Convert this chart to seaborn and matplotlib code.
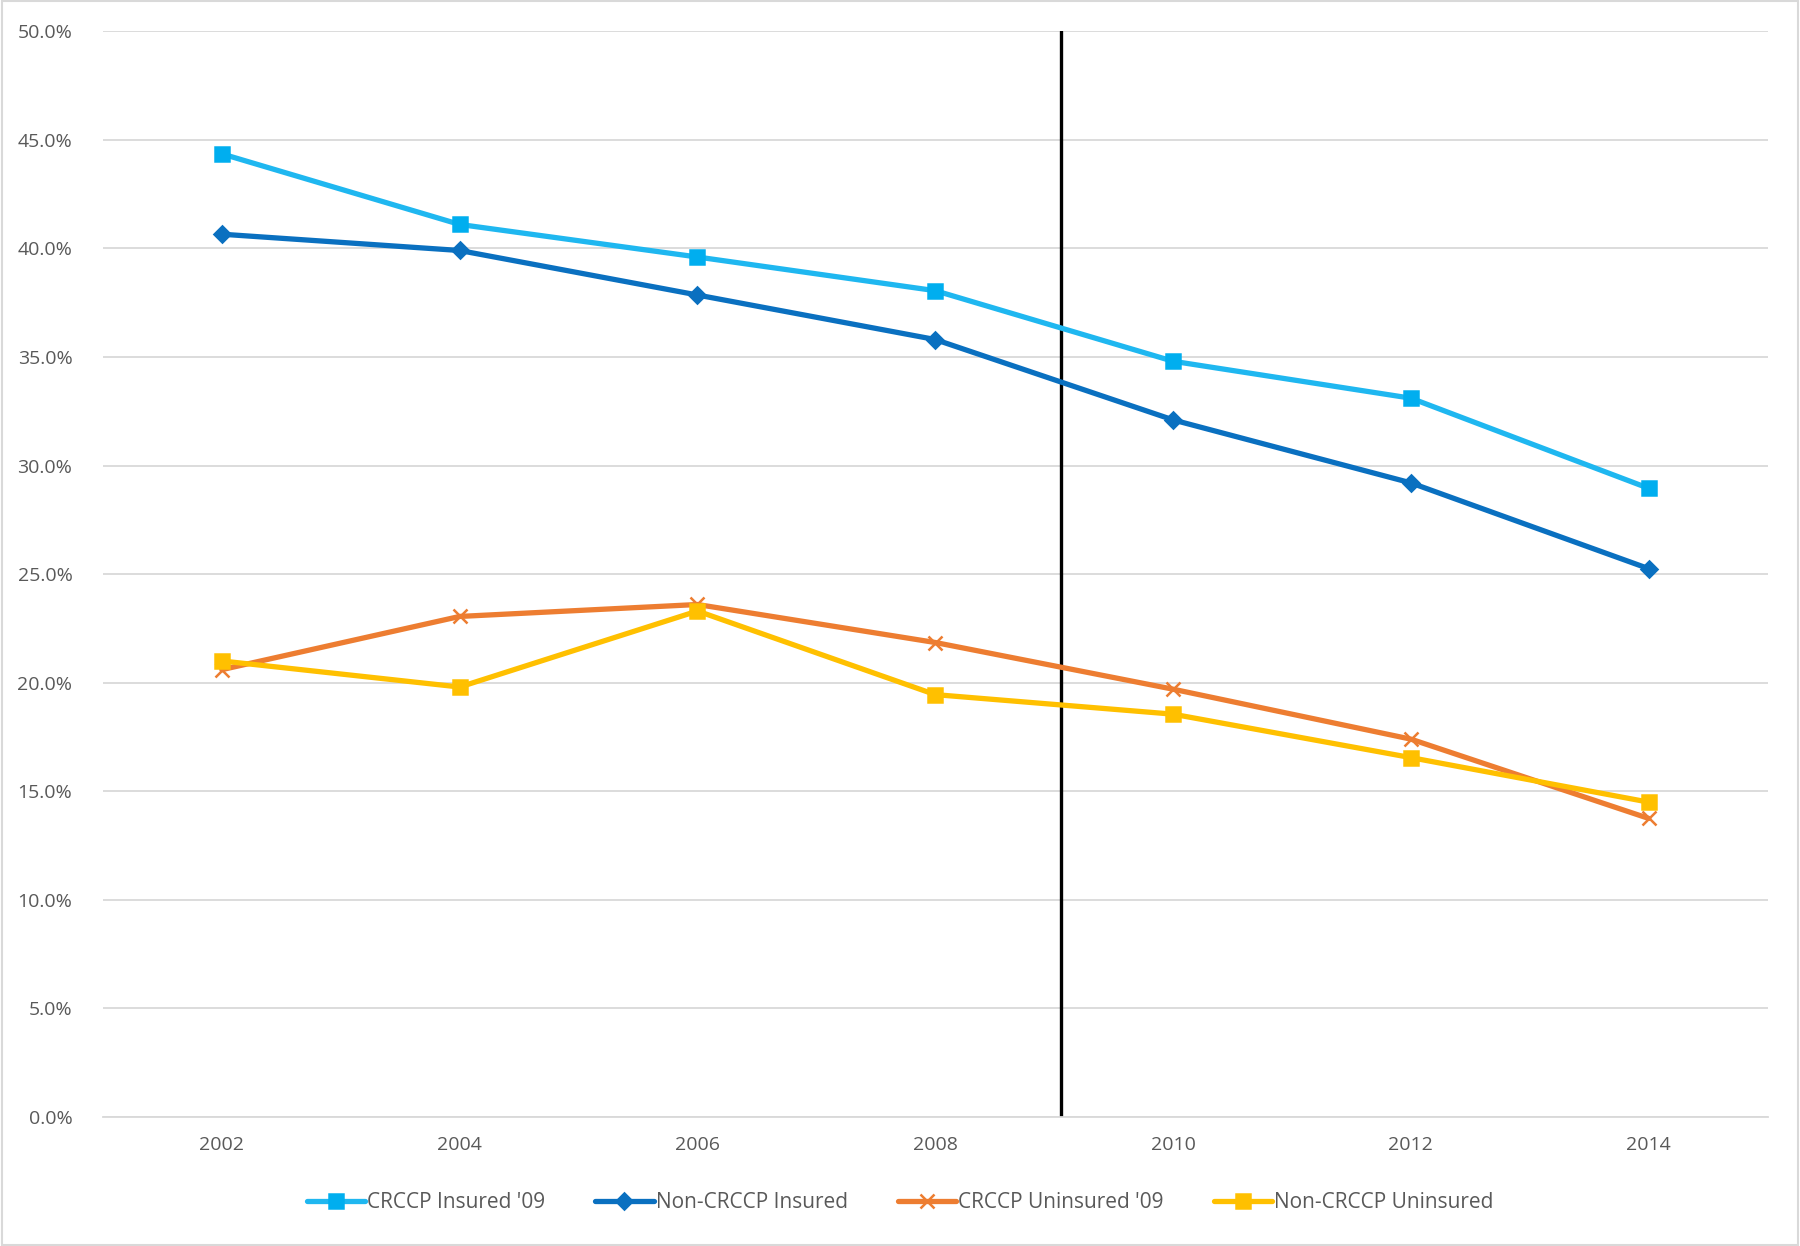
import pandas as pd
import matplotlib.pyplot as plt
import matplotlib.ticker as mticker
import seaborn as sns

# Data (percent)
years = ["2002", "2004", "2006", "2008", "2010", "2012", "2014"]
crccp_insured = [44.35, 41.1, 39.6, 38.05, 34.8, 33.1, 28.95]
non_crccp_insured = [40.65, 39.9, 37.85, 35.8, 32.1, 29.2, 25.25]
crccp_uninsured = [20.6, 23.05, 23.6, 21.85, 19.7, 17.4, 13.75]
non_crccp_uninsured = [21.0, 19.8, 23.3, 19.45, 18.55, 16.55, 14.5]
series_names = ["CRCCP Insured '09", "Non-CRCCP Insured",
                "CRCCP Uninsured '09", "Non-CRCCP Uninsured"]

# Build long table for seaborn
def build_frame():
    rows = []
    for name, vals in zip(series_names, [crccp_insured, non_crccp_insured,
                                         crccp_uninsured, non_crccp_uninsured]):
        for y, v in zip(years, vals):
            rows.append({"year": y, "value": v, "series": name})
    return pd.DataFrame(rows)

def main():
    df = build_frame()
    sns.set_style("white")
    plt.rcParams['font.family'] = ['Open Sans', 'DejaVu Sans']

    fig = plt.figure(figsize=(18, 12.46), dpi=100)
    ax = fig.add_axes([0.0572, 0.1035, 0.9248, 0.8715])

    palette = {"CRCCP Insured '09": "#1FB7F0", "Non-CRCCP Insured": "#0A70C0",
               "CRCCP Uninsured '09": "#ED7D31", "Non-CRCCP Uninsured": "#FFC000"}
    markers = {"CRCCP Insured '09": "s", "Non-CRCCP Insured": "D",
               "CRCCP Uninsured '09": "x", "Non-CRCCP Uninsured": "s"}
    msizes = {"CRCCP Insured '09": 10, "Non-CRCCP Insured": 8,
              "CRCCP Uninsured '09": 10, "Non-CRCCP Uninsured": 10}

    for name in series_names:
        sub = df[df["series"] == name]
        sns.lineplot(data=sub, x="year", y="value", ax=ax, color=palette[name],
                     marker=markers[name], markersize=msizes[name],
                     markeredgecolor="#00AEEF" if name == series_names[0] else palette[name],
                     markerfacecolor="#00AEEF" if name == series_names[0] else palette[name],
                     markeredgewidth=1.8, linewidth=3.8, sort=False, label=name)

    ax.axvline(3.53, color="black", linewidth=2.4, zorder=1)

    ax.set_xlim(-0.5, 6.5)
    ax.set_ylim(0, 50)
    ax.yaxis.set_major_locator(mticker.MultipleLocator(5))
    ax.yaxis.set_major_formatter(mticker.FuncFormatter(lambda v, p: f"{v:.1f}%"))
    ax.grid(axis="y", color="#D9D9D9", linewidth=1.3)
    ax.set_axisbelow(True)
    for side in ["top", "right", "left"]:
        ax.spines[side].set_visible(False)
    ax.spines["bottom"].set_color("#D9D9D9")
    ax.spines["bottom"].set_linewidth(1.3)
    ax.tick_params(axis="both", length=0, labelsize=14, labelcolor="#595959", pad=14)
    ax.tick_params(axis="y", pad=22)
    ax.set_xlabel("")
    ax.set_ylabel("")

    ax.legend(loc="center", bbox_to_anchor=(0.5, 0.035), bbox_transform=fig.transFigure,
              ncol=4, frameon=False, fontsize=15, labelcolor="#595959",
              handlelength=2.8, handletextpad=0.1, columnspacing=2.4)

    # light border around the figure
    fig.patches.append(plt.Rectangle((0.001, 0.001), 0.998, 0.998, transform=fig.transFigure,
                                     fill=False, edgecolor="#D9D9D9", linewidth=1.5))
    fig.savefig("out.png", dpi=100, facecolor="white")

if __name__ == "__main__":
    main()
